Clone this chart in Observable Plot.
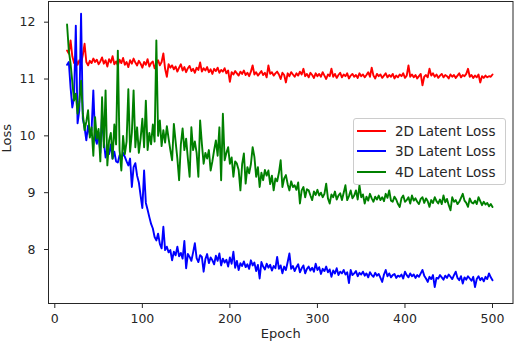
<!DOCTYPE html>
<html>
<head>
<meta charset="utf-8">
<script src="https://cdn.jsdelivr.net/npm/d3@7"></script>
<script src="https://cdn.jsdelivr.net/npm/@observablehq/plot@0.6"></script>
<style>
  html, body { margin: 0; padding: 0; background: #fff; }
  #chart { width: 514px; height: 346px; position: relative; }
</style>
</head>
<body>
<div id="chart"></div>
<script>
// Epoch index (every 2nd epoch, 14..500)
const epochStart = 14, epochEnd = 500, epochStep = 2;
const epochs = d3.range(epochStart, epochEnd + 1, epochStep);

const seriesNames = ["2D Latent Loss", "3D Latent Loss", "4D Latent Loss"];
const seriesColors = ["#ff0000", "#0000ff", "#008000"];

const loss2D = [
  11.50, 11.45, 11.68, 11.40, 11.28, 11.36, 11.25, 11.33, 11.27, 11.42,
  11.62, 11.30, 11.24, 11.32, 11.28, 11.36, 11.30, 11.34, 11.26, 11.31,
  11.38, 11.27, 11.33, 11.22, 11.35, 11.29, 11.40, 11.26, 11.31, 11.24,
  11.34, 11.28, 11.37, 11.25, 11.30, 11.21, 11.33, 11.27, 11.36, 11.29,
  11.24, 11.32, 11.27, 11.20, 11.30, 11.25, 11.35, 11.22, 11.28, 11.31,
  11.19, 11.27, 11.33, 11.24, 11.30, 11.45, 11.18, 11.04, 11.26, 11.20,
  11.24, 11.17, 11.22, 11.13, 11.20, 11.26, 11.15, 11.21, 11.12, 11.19,
  11.23, 11.14, 11.18, 11.11, 11.20, 11.16, 11.29, 11.13, 11.19, 11.15,
  11.21, 11.12, 11.17, 11.09, 11.18, 11.14, 11.20, 11.11, 11.16, 11.13,
  11.19, 11.10, 11.15, 10.95, 11.12, 11.08, 11.14, 11.10, 11.06, 11.13,
  11.09, 11.15, 11.07, 11.11, 11.05, 11.13, 11.24, 11.08, 11.12, 11.06,
  11.10, 11.14, 11.07, 11.11, 11.03, 11.24, 11.09, 11.12, 11.06, 11.10,
  11.13, 11.08, 11.00, 11.11, 11.07, 10.94, 11.10, 11.05, 11.12, 11.08,
  11.04, 11.10, 11.06, 11.13, 11.08, 11.18, 11.05, 11.09, 11.03, 11.11,
  11.07, 11.02, 11.10, 11.05, 11.09, 11.04, 11.12, 11.06, 11.00, 11.08,
  11.05, 11.18, 11.04, 11.09, 11.02, 11.07, 11.11, 11.03, 11.08, 11.05,
  11.10, 11.01, 11.06, 11.09, 11.04, 11.07, 11.02, 11.10, 11.05, 11.08,
  11.03, 11.07, 11.12, 11.04, 11.20, 11.06, 11.01, 11.09, 11.05, 11.08,
  11.02, 11.06, 11.10, 11.03, 11.07, 11.04, 11.09, 11.01, 11.06, 11.03,
  11.08, 11.05, 11.10, 11.02, 11.06, 11.24, 11.04, 11.08, 11.03, 11.07,
  11.01, 11.05, 11.09, 10.89, 11.04, 11.07, 11.03, 11.18, 11.06, 11.10,
  11.04, 11.08, 11.02, 11.06, 11.09, 11.03, 11.07, 11.05, 11.01, 11.08,
  11.04, 11.07, 11.02, 11.06, 11.10, 11.03, 11.07, 11.05, 11.09, 11.18,
  11.04, 11.07, 11.02, 11.06, 11.03, 11.08, 10.94, 11.05, 11.02, 11.06,
  11.03, 11.05, 11.04, 11.08
];

const loss3D = [
  11.25, 11.30, 10.85, 10.50, 10.68, 11.94, 10.22, 10.45, 12.15, 10.30,
  10.15, 9.92, 10.18, 10.02, 10.10, 10.80, 9.98, 9.86, 10.06, 9.70,
  10.36, 9.90, 9.62, 9.78, 9.68, 9.85, 9.60, 9.72, 9.55, 9.53,
  9.66, 9.58, 9.70, 9.63, 9.55, 9.48, 9.60, 9.10, 9.45, 9.52,
  9.30, 9.18, 8.95, 8.73, 9.39, 8.82, 8.70, 8.57, 8.45, 8.37,
  8.22, 8.16, 8.28, 8.10, 8.02, 8.40, 7.99, 8.05, 7.95, 7.99,
  7.81, 7.96, 7.90, 8.05, 7.88, 7.94, 7.84, 8.15, 7.67, 7.92,
  7.87, 7.80, 7.95, 8.11, 7.85, 7.78, 7.90, 7.87, 7.61, 7.83,
  7.92, 7.76, 7.86, 7.81, 7.74, 7.89, 7.80, 7.93, 7.72, 7.84,
  7.77, 7.82, 7.70, 7.86, 7.75, 7.96, 7.68, 7.80, 7.64, 7.76,
  7.71, 7.79, 7.69, 7.74, 7.66, 7.81, 7.72, 7.77, 7.62, 7.73,
  7.49, 7.78, 7.70, 7.65, 7.75, 7.68, 7.73, 7.63, 7.71, 7.67,
  7.87, 7.66, 7.72, 7.58, 7.70, 7.64, 7.78, 7.93, 7.66, 7.71,
  7.62, 7.69, 7.74, 7.60, 7.67, 7.72, 7.58, 7.66, 7.70, 7.63,
  7.68, 7.61, 7.75, 7.64, 7.69, 7.57, 7.66, 7.62, 7.70, 7.60,
  7.65, 7.52, 7.63, 7.58, 7.67, 7.55, 7.61, 7.58, 7.64, 7.56,
  7.60, 7.41, 7.64, 7.55, 7.58, 7.62, 7.53, 7.59, 7.56, 7.61,
  7.54, 7.58, 7.51, 7.60, 7.55, 7.52, 7.59, 7.54, 7.57, 7.50,
  7.43, 7.56, 7.64, 7.53, 7.58, 7.51, 7.55, 7.57, 7.50, 7.54,
  7.52, 7.56, 7.49, 7.61, 7.55, 7.51, 7.58, 7.53, 7.56, 7.50,
  7.55, 7.52, 7.58, 7.64, 7.54, 7.49, 7.43, 7.52, 7.48, 7.55,
  7.34, 7.50, 7.49, 7.55, 7.51, 7.47, 7.54, 7.50, 7.56, 7.52,
  7.48, 7.55, 7.61, 7.50, 7.46, 7.53, 7.40, 7.51, 7.47, 7.53,
  7.49, 7.45, 7.52, 7.34, 7.48, 7.53, 7.46, 7.50, 7.44, 7.52,
  7.48, 7.58, 7.51, 7.46
];

const loss4D = [
  11.96, 11.50, 11.27, 10.95, 10.62, 10.74, 10.39, 10.60, 10.97, 10.39,
  10.10, 10.25, 10.45, 9.97, 10.15, 9.65, 10.33, 9.95, 10.12, 9.55,
  10.68, 9.80, 10.80, 9.48, 9.92, 10.05, 9.60, 10.20, 9.85, 11.50,
  9.75, 9.39, 10.00, 9.68, 9.90, 10.82, 9.72, 10.05, 10.80, 9.80,
  10.15, 9.70, 9.95, 10.30, 9.80, 10.62, 9.75, 10.05, 9.85, 10.20,
  9.90, 11.68, 10.00, 10.27, 9.82, 10.10, 9.88, 10.17, 9.95, 9.75,
  9.57, 10.21, 9.90, 9.60, 9.22, 9.85, 10.13, 9.75, 9.95, 9.60,
  9.28, 10.15, 9.75, 9.90, 9.70, 9.28, 10.27, 9.86, 9.51, 9.70,
  9.60, 9.75, 9.39, 9.55, 9.75, 9.92, 9.65, 10.15, 9.22, 10.39,
  9.57, 9.70, 9.80, 9.51, 9.62, 9.28, 9.55, 9.51, 9.40, 9.04,
  9.50, 9.69, 9.16, 9.45, 9.34, 9.50, 9.80, 9.63, 9.28, 9.45,
  9.10, 9.35, 9.22, 9.40, 9.30, 9.39, 9.15, 9.30, 9.04, 9.25,
  9.20, 9.35, 9.57, 9.10, 9.25, 9.31, 9.15, 9.04, 9.20, 9.10,
  9.13, 9.05, 9.18, 8.81, 9.04, 9.10, 8.92, 9.06, 9.04, 8.95,
  8.87, 9.02, 8.96, 9.05, 8.95, 9.00, 8.92, 8.98, 9.16, 8.90,
  8.81, 8.97, 8.92, 9.02, 8.88, 8.95, 8.99, 8.87, 9.00, 9.13,
  8.87, 8.94, 9.04, 8.90, 8.95, 9.04, 8.88, 9.13, 8.92, 8.97,
  8.81, 8.93, 8.86, 8.98, 8.90, 8.84, 8.93, 8.88, 8.95, 8.87,
  8.92, 8.85, 8.98, 8.91, 9.04, 8.86, 8.84, 8.93, 8.88, 8.80,
  8.75, 8.90, 8.95, 8.84, 8.87, 8.92, 8.81, 8.95, 8.86, 8.90,
  8.84, 8.80, 8.89, 8.92, 8.82, 8.90, 8.85, 8.75, 8.87, 8.82,
  8.92, 8.85, 8.81, 8.88, 8.80, 8.95, 8.83, 8.89, 8.78, 8.69,
  8.92, 8.84, 8.87, 8.80, 8.84, 8.91, 8.98, 8.86, 8.82, 8.75,
  8.90, 8.83, 8.81, 8.86, 8.80, 8.92, 8.85, 8.78, 8.84, 8.79,
  8.82, 8.76, 8.80, 8.75
];

const xTicks = [0, 100, 200, 300, 400, 500];
const yTicks = [8, 9, 10, 11, 12];
const xLabel = "Epoch";
const yLabel = "Loss";

const seriesValues = [loss2D, loss3D, loss4D];
const rows = [];
seriesValues.forEach((vals, s) => {
  vals.forEach((v, i) => rows.push({series: seriesNames[s], epoch: epochs[i], loss: v}));
});

const W = 514, H = 346;
const mLeft = 48, mRight = 1.5, mTop = 1, mBottom = 43;
const font = "DejaVu Sans, sans-serif";

const chart = Plot.plot({
  width: W,
  height: H,
  marginLeft: mLeft,
  marginRight: mRight,
  marginTop: mTop,
  marginBottom: mBottom,
  style: {fontFamily: font, background: "#fff", color: "#262626", overflow: "visible"},
  x: {domain: [-7.2, 523.4]},
  y: {domain: [7.05, 12.364]},
  color: {domain: seriesNames, range: seriesColors},
  marks: [
    Plot.line(rows, {x: "epoch", y: "loss", z: "series", stroke: "series", strokeWidth: 1.9, strokeLinejoin: "round"}),
    Plot.frame({stroke: "#262626", strokeWidth: 1}),
    Plot.axisX({ticks: xTicks, tickSize: 5, tickPadding: 6, fontSize: 12.5, label: null, tickFormat: d3.format("d")}),
    Plot.axisY({ticks: yTicks, tickSize: 4, tickPadding: 9, fontSize: 12.5, label: null, tickFormat: d3.format("d")}),
    Plot.text([xLabel], {text: d => d, frameAnchor: "bottom", dy: 34, fontSize: 13, fill: "#262626"}),
    Plot.text([yLabel], {text: d => d, frameAnchor: "left", dx: -41.5, rotate: -90, fontSize: 13, fill: "#262626"})
  ]
});

const host = document.getElementById("chart");
host.appendChild(chart);

// Legend inside the plot area (upper right), matplotlib-style, as an overlay
const lgX = 353, lgY = 118, lgW = 153, lgH = 67, rowH = 20.8;
const legend = d3.select(host).append("div")
  .style("position", "absolute").style("left", lgX + "px").style("top", lgY + "px")
  .style("width", (lgW - 2) + "px").style("height", (lgH - 2) + "px")
  .style("border", "1px solid #cccccc").style("border-radius", "3px")
  .style("background", "rgba(255,255,255,0.85)")
  .style("font-family", font).style("font-size", "13.5px").style("color", "#262626");
seriesNames.forEach((name, i) => {
  const row = legend.append("div")
    .style("position", "absolute").style("left", "3px").style("top", (i * rowH + 1.5) + "px")
    .style("height", "20px").style("display", "flex").style("align-items", "center")
    .style("white-space", "nowrap");
  row.append("span").style("display", "inline-block").style("width", "29px").style("height", "2px")
    .style("background", seriesColors[i]).style("margin-right", "9px");
  row.append("span").text(name);
});
</script>
</body>
</html>
